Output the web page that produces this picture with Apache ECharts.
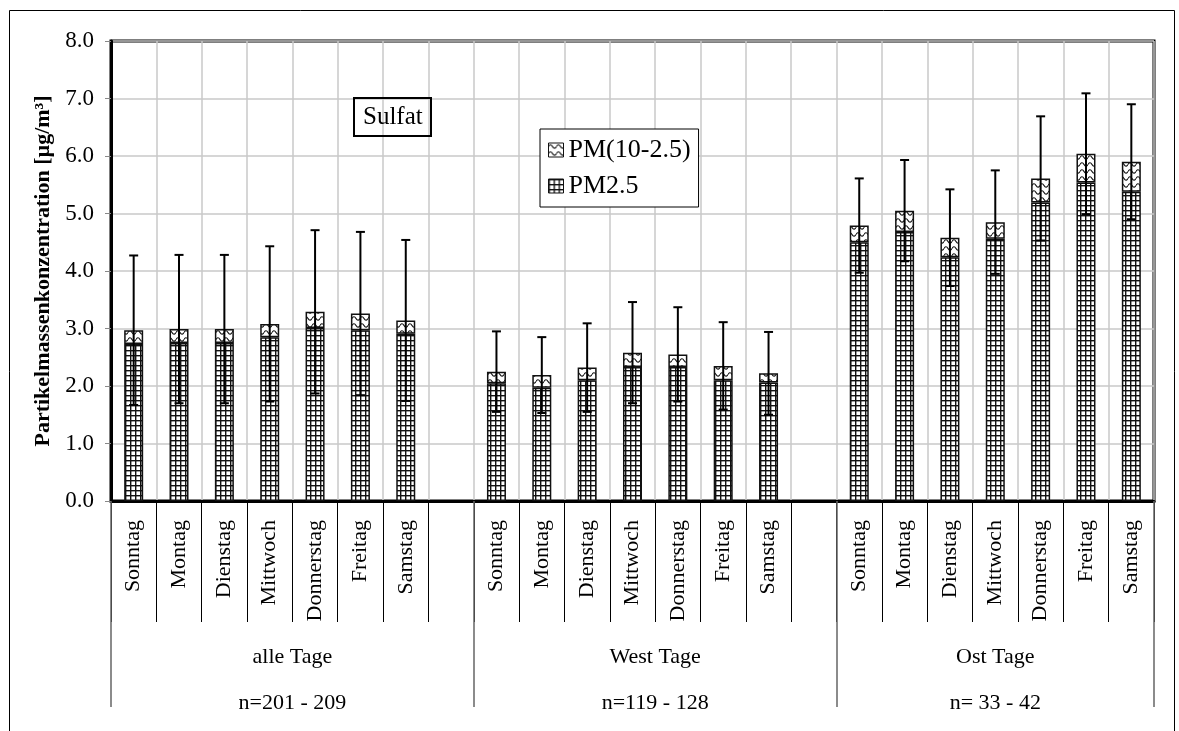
<!DOCTYPE html>
<html>
<head>
<meta charset="utf-8">
<script src="https://cdn.jsdelivr.net/npm/echarts@6/dist/echarts.min.js"></script>
<style>
html,body{margin:0;padding:0;background:#fff;}
#chart{width:1179px;height:731px;}
</style>
</head>
<body>
<div id="chart"></div>
<script>
// ---- data ----
const days = ['Sonntag','Montag','Dienstag','Mittwoch','Donnerstag','Freitag','Samstag'];
const categories = [...days, '', ...days, '', ...days];
const groupNames = ['alle Tage','West Tage','Ost Tage'];
const groupN = ['n=201 - 209','n=119 - 128','n= 33 - 42'];
const groupSizes = [8, 8, 7];
const pm25   = [2.73,2.75,2.75,2.85,3.01,2.97,2.91,null,2.05,1.97,2.10,2.33,2.33,2.10,2.06,null,4.50,4.68,4.24,4.56,5.19,5.54,5.38];
const coarse = [0.24,0.24,0.24,0.23,0.28,0.29,0.23,null,0.20,0.22,0.22,0.25,0.22,0.25,0.16,null,0.29,0.37,0.34,0.29,0.42,0.50,0.52];
const sd     = [1.30,1.29,1.29,1.35,1.42,1.42,1.40,null,0.70,0.66,0.77,0.88,0.82,0.76,0.72,null,0.82,0.88,0.84,0.90,1.08,1.05,1.00];
const yTicks = [0,1,2,3,4,5,6,7,8];

// ---- derived ----
const errData = pm25.map((v,i) => v == null ? [i, null, null]
  : [i, +(v + coarse[i] - sd[i]).toFixed(3), +(v + coarse[i] + sd[i]).toFixed(3)]);
const bounds = [0]; groupSizes.forEach(s => bounds.push(bounds[bounds.length-1] + s));
const centers = groupSizes.map((s,i) => (bounds[i] + bounds[i+1]) / 2);

// ---- patterns ----
function gridTile(){
  const c = document.createElement('canvas'); c.width = 5; c.height = 5;
  const g = c.getContext('2d');
  g.fillStyle = '#fff'; g.fillRect(0,0,5,5);
  g.fillStyle = '#111'; g.fillRect(0,0,5,1.4); g.fillRect(0,0,1.4,5);
  return c;
}
function waveTile(){
  const c = document.createElement('canvas'); c.width = 8; c.height = 7;
  const g = c.getContext('2d');
  g.fillStyle = '#fff'; g.fillRect(0,0,8,7);
  g.strokeStyle = '#111'; g.lineWidth = 1.2;
  g.beginPath(); g.moveTo(0,3.5); g.quadraticCurveTo(2,0,4,3.5); g.quadraticCurveTo(6,7,8,3.5); g.stroke();
  return c;
}

const FONT = 'Liberation Serif';
const chart = echarts.init(document.getElementById('chart'), null, {renderer:'canvas'});
chart.setOption({
  backgroundColor: '#fff',
  animation: false,
  title: {
    text: 'Sulfat', left: 354, top: 98,
    borderColor: '#000', borderWidth: 2, padding: [6, 9, 5, 9],
    textStyle: {fontFamily: FONT, fontSize: 25, fontWeight: 'normal', color: '#000', lineHeight: 27}
  },
  legend: {
    data: ['PM(10-2.5)', 'PM2.5'], orient: 'vertical', left: 540, top: 129, icon: 'rect',
    backgroundColor: '#fff', borderColor: '#000', borderWidth: 1,
    padding: [8, 8, 8, 8], itemGap: 10, itemWidth: 15, itemHeight: 14,
    itemStyle: {borderColor: '#111', borderWidth: 1},
    textStyle: {fontFamily: FONT, fontSize: 26, color: '#000'}
  },
  graphic: [{
    type: 'rect', left: 7, top: 8, shape: {width: 1165, height: 760},
    style: {fill: 'none', stroke: '#000', lineWidth: 1}, silent: true, z: -10
  }],
  grid: {left: 111, right: 25, top: 41, bottom: 230, show: true, borderColor: '#000', borderWidth: 3, backgroundColor: 'transparent'},
  xAxis: [{
    type: 'category', data: categories, boundaryGap: true,
    axisLine: {show: true, lineStyle: {color: '#000', width: 3}},
    axisTick: {show: true, interval: 0, length: 121, lineStyle: {color: '#000', width: 1}},
    axisLabel: {interval: 0, rotate: 90, margin: 19, fontFamily: FONT, fontSize: 22, color: '#000'},
    splitLine: {show: true, interval: 0, lineStyle: {color: '#c8c8c8', width: 1.5}}
  }, {
    type: 'value', min: 0, max: bounds[bounds.length-1], position: 'bottom', offset: 0,
    axisLine: {show: false}, splitLine: {show: false},
    axisTick: {show: true, customValues: bounds, length: 206, lineStyle: {color: '#666', width: 1.5}},
    axisLabel: {
      customValues: centers, margin: 145, fontFamily: FONT, fontSize: 22, color: '#000', lineHeight: 23,
      formatter: v => { const i = centers.indexOf(v); return i < 0 ? '' : groupNames[i] + '\n\n' + groupN[i]; }
    }
  }],
  yAxis: {
    type: 'value', min: yTicks[0], max: yTicks[yTicks.length-1], interval: 1,
    name: 'Partikelmassenkonzentration [µg/m³]', nameLocation: 'middle', nameRotate: 90, nameGap: 57,
    nameTextStyle: {fontFamily: FONT, fontSize: 22, fontWeight: 'bold', color: '#000'},
    axisLine: {show: true, lineStyle: {color: '#000', width: 3}},
    axisTick: {show: true, length: 6, lineStyle: {color: '#888'}},
    axisLabel: {formatter: v => v.toFixed(1), margin: 17, fontFamily: FONT, fontSize: 23, color: '#000'},
    splitLine: {show: true, lineStyle: {color: '#c8c8c8', width: 1.5}}
  },
  series: [{
    name: 'PM2.5', type: 'bar', stack: 'pm', data: pm25, barWidth: 19,
    itemStyle: {color: {image: gridTile(), repeat: 'repeat'}, borderColor: '#111', borderWidth: 1.5}
  }, {
    name: 'PM(10-2.5)', type: 'bar', stack: 'pm', data: coarse, barWidth: 19,
    itemStyle: {color: {image: waveTile(), repeat: 'repeat'}, borderColor: '#111', borderWidth: 1.5}
  }, {
    name: 'sd', type: 'custom', data: errData, z: 10, clip: false,
    encode: {x: 0, y: [1, 2]},
    renderItem: (params, api) => {
      if (api.value(1) == null || isNaN(api.value(1))) return null;
      const lo = api.coord([api.value(0), api.value(1)]);
      const hi = api.coord([api.value(0), api.value(2)]);
      const w = 4.5;
      const st = {stroke: '#000', lineWidth: 2};
      return {type: 'group', children: [
        {type: 'line', shape: {x1: lo[0], y1: lo[1], x2: hi[0], y2: hi[1]}, style: st},
        {type: 'line', shape: {x1: lo[0]-w, y1: lo[1], x2: lo[0]+w, y2: lo[1]}, style: st},
        {type: 'line', shape: {x1: hi[0]-w, y1: hi[1], x2: hi[0]+w, y2: hi[1]}, style: st}
      ]};
    }
  }]
});
</script>
</body>
</html>
